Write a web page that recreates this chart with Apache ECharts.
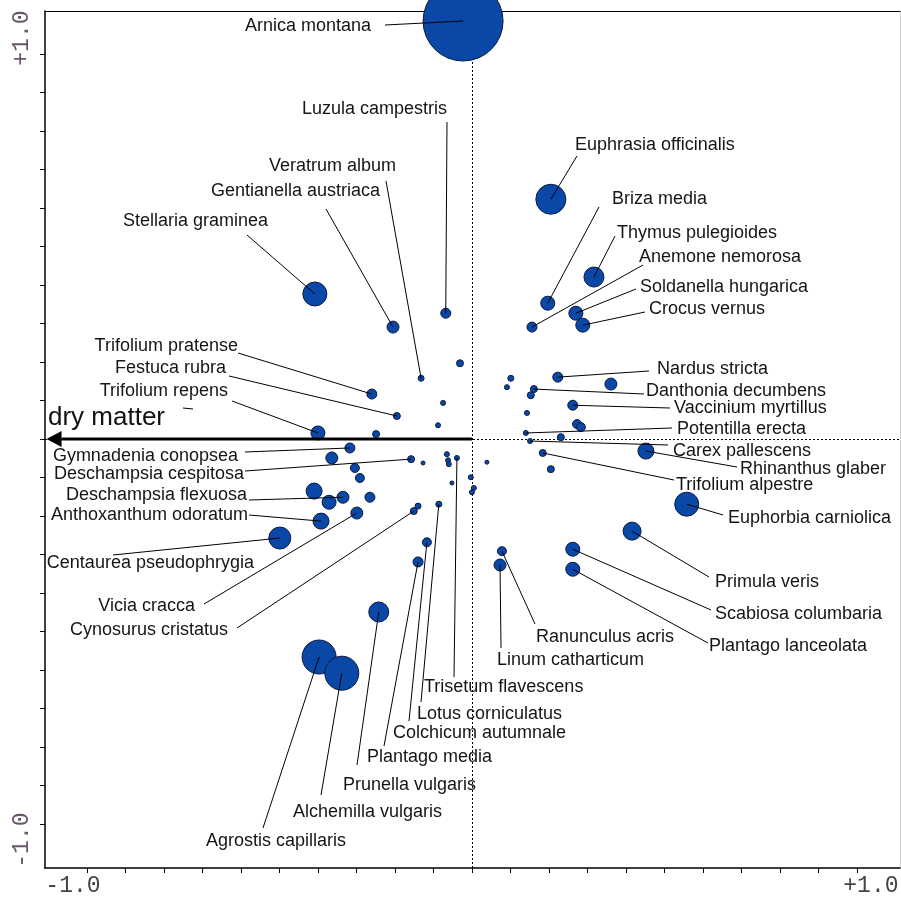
<!DOCTYPE html>
<html><head><meta charset="utf-8">
<script src="https://cdn.jsdelivr.net/npm/echarts@6.0.0/dist/echarts.min.js"></script>
<style>html,body{margin:0;padding:0;background:#fff}#c{width:901px;height:897px}</style>
</head><body><div id="c"></div>
<script>
// ---------- DATA (ordination scores) ----------
const species = [
 'Arnica montana','Euphrasia officinalis','Briza media','Thymus pulegioides','Anemone nemorosa',
 'Soldanella hungarica','Crocus vernus','Nardus stricta','Danthonia decumbens','Vaccinium myrtillus',
 'Potentilla erecta','Carex pallescens','Rhinanthus glaber','Trifolium alpestre','Euphorbia carniolica',
 'Primula veris','Scabiosa columbaria','Plantago lanceolata','Ranunculus acris','Linum catharticum',
 'Stellaria graminea','Gentianella austriaca','Veratrum album','Luzula campestris','Trifolium pratense',
 'Festuca rubra','Trifolium repens','Gymnadenia conopsea','Deschampsia cespitosa','Deschampsia flexuosa',
 'Anthoxanthum odoratum','Centaurea pseudophrygia','Vicia cracca','Cynosurus cristatus','Agrostis capillaris',
 'Alchemilla vulgaris','Prunella vulgaris','Plantago media','Colchicum autumnale','Lotus corniculatus',
 'Trisetum flavescens'
];
const speciesX = [
 -0.023, 0.205, 0.197, 0.317, 0.156,
  0.270, 0.288, 0.223, 0.161, 0.262,
  0.140, 0.151, 0.452, 0.184, 0.558,
  0.416, 0.262, 0.262, 0.078, 0.073,
 -0.408,-0.205,-0.132,-0.068,-0.260,
 -0.195,-0.400,-0.317,-0.158,-0.335,
 -0.392,-0.499,-0.299,-0.151,-0.397,
 -0.338,-0.242,-0.140,-0.117,-0.086,
 -0.039
];
const speciesY = [
  1.086, 0.623, 0.353, 0.421, 0.291,
  0.327, 0.296, 0.161, 0.130, 0.088,
  0.016,-0.005,-0.031,-0.036,-0.169,
 -0.239,-0.286,-0.338,-0.291,-0.327,
  0.377, 0.291, 0.158, 0.327, 0.117,
  0.060, 0.016,-0.023,-0.052,-0.151,
 -0.213,-0.257,-0.192,-0.187,-0.566,
 -0.608,-0.449,-0.319,-0.268,-0.169,
 -0.049
];
// symbol weight (abundance class)
const speciesWeight = [
 40,15,7,10,5,
 7,7,5,3.5,5,
 2.5,2.5,8,3.5,12,
 9,7,7,4.5,6,
 12,6,3,5,5,
 3.5,7,5,3.5,6,
 8,11,6,3.5,17,
 17,10,5,4.5,3,
 2.5
];
// species plotted without a label
const otherX = [-0.031,-0.075,-0.088,-0.249, 0.101, 0.091, 0.361, 0.153, 0.143, 0.273, 0.283, 0.231, 0.205, 0.039,
 -0.364,-0.304,-0.291,-0.410,-0.371,-0.265,-0.127,-0.065,-0.062,-0.060,-0.052,-0.003, 0.005, 0.000,-0.140];
const otherY = [ 0.197, 0.094, 0.036, 0.013, 0.158, 0.135, 0.143, 0.114, 0.068, 0.039, 0.031, 0.005,-0.078,-0.060,
 -0.049,-0.075,-0.101,-0.135,-0.164,-0.151,-0.062,-0.039,-0.055,-0.065,-0.114,-0.099,-0.127,-0.138,-0.174];
const otherWeight = [3.5,2.5,2.5,3.5,3,2.5,6,3.5,2.5,4.5,4.5,3.5,3.5,2,
 6,4.5,4.5,8,7,5,2,2.5,2.5,2.5,2,2.5,2.5,2.5,3];
// environmental variable
const envNames = ['dry matter'];
const envX = [-1.105];
const envY = [0];
// axis ticks & labels
const tickValues = [-1.0,-0.9,-0.8,-0.7,-0.6,-0.5,-0.4,-0.3,-0.2,-0.1,0,0.1,0.2,0.3,0.4,0.5,0.6,0.7,0.8,0.9,1.0];
const tickLabelValues = [-1.0, 1.0];
const tickLabelText = ['-1.0', '+1.0'];

// ---------- LAYOUT (label placement in the 901x897 frame) ----------
// [textX, textY, align, leaderEndX, leaderEndY]
const LABEL_LAYOUT = {
 'Arnica montana':[371,26,'right',385,25],
 'Euphrasia officinalis':[575,145,'left',577,156],
 'Briza media':[612,199,'left',599,207],
 'Thymus pulegioides':[617,233,'left',615,236],
 'Anemone nemorosa':[639,257,'left',643,265],
 'Soldanella hungarica':[640,287,'left',636,289],
 'Crocus vernus':[649,309,'left',645,312],
 'Nardus stricta':[657,369,'left',649,371],
 'Danthonia decumbens':[646,391,'left',644,394],
 'Vaccinium myrtillus':[674,408,'left',670,408],
 'Potentilla erecta':[677,429,'left',672,428],
 'Carex pallescens':[673,451,'left',668,445],
 'Rhinanthus glaber':[740,469,'left',737,467],
 'Trifolium alpestre':[676,485,'left',674,480],
 'Euphorbia carniolica':[728,518,'left',723,515],
 'Primula veris':[715,582,'left',709,577],
 'Scabiosa columbaria':[715,614,'left',711,610],
 'Plantago lanceolata':[709,646,'left',708,643],
 'Ranunculus acris':[536,637,'left',535,624],
 'Linum catharticum':[497,660,'left',501,648],
 'Stellaria graminea':[268,221,'right',247,235],
 'Gentianella austriaca':[380,191,'right',326,209],
 'Veratrum album':[396,166,'right',386,181],
 'Luzula campestris':[447,109,'right',447,122],
 'Trifolium pratense':[238,346,'right',238,353],
 'Festuca rubra':[226,368,'right',229,376],
 'Trifolium repens':[228,391,'right',232,401],
 'Gymnadenia conopsea':[238,456,'right',245,452],
 'Deschampsia cespitosa':[244,474,'right',245,471],
 'Deschampsia flexuosa':[247,495,'right',249,500],
 'Anthoxanthum odoratum':[248,515,'right',249,515],
 'Centaurea pseudophrygia':[254,563,'right',113,555],
 'Vicia cracca':[195,606,'right',204,604],
 'Cynosurus cristatus':[228,630,'right',237,628],
 'Agrostis capillaris':[206,841,'left',263,828],
 'Alchemilla vulgaris':[293,812,'left',321,795],
 'Prunella vulgaris':[343,785,'left',357,765],
 'Plantago media':[367,757,'left',384,746],
 'Colchicum autumnale':[393,733,'left',409,721],
 'Lotus corniculatus':[417,714,'left',421,702],
 'Trisetum flavescens':[424,687,'left',454,677]
};
const ENV_LABEL = {'dry matter':[48,418]};

const X_MIN = -1.109, X_MAX = 1.112, Y_MIN = -1.114, Y_MAX = 1.112;
const LABEL_FONT = '18px "Liberation Sans", Arial, sans-serif';
const POINT_FILL = '#0a48a8';

const chart = echarts.init(document.getElementById('c'), null, {renderer:'canvas'});

const pointData = [];
for (let i = 0; i < species.length; i++) pointData.push({name: species[i], value:[speciesX[i], speciesY[i], speciesWeight[i]]});
for (let i = 0; i < otherX.length; i++) pointData.push({name: '', value:[otherX[i], otherY[i], otherWeight[i]]});

const labelData = species.map((n, i) => ({name: n, value:[speciesX[i], speciesY[i]]}));

const baseAxis = {
  type:'value', splitLine:{show:false}
};

const option = {
  animation:false,
  backgroundColor:'#fff',
  grid:{left:45, right:1, top:11, bottom:29, containLabel:false},
  xAxis:[
    Object.assign({}, baseAxis, {min:X_MIN, max:X_MAX, position:'bottom',
      axisLine:{show:true, onZero:false, lineStyle:{color:'#000', width:1.5}},
      axisTick:{show:true, inside:false, length:5, lineStyle:{color:'#000', width:1}, customValues: tickValues},
      axisLabel:{show:false}}),
    Object.assign({}, baseAxis, {min:X_MIN, max:X_MAX, position:'top',
      axisLine:{show:true, onZero:false, lineStyle:{color:'#000', width:1}},
      axisTick:{show:false}, axisLabel:{show:false}})
  ],
  yAxis:[
    Object.assign({}, baseAxis, {min:Y_MIN, max:Y_MAX, position:'left',
      axisLine:{show:true, onZero:false, lineStyle:{color:'#000', width:1.5}},
      axisTick:{show:true, inside:false, length:5, lineStyle:{color:'#000', width:1}, customValues: tickValues},
      axisLabel:{show:false}}),
    Object.assign({}, baseAxis, {min:Y_MIN, max:Y_MAX, position:'right',
      axisLine:{show:true, onZero:false, lineStyle:{color:'#cfcfcf', width:1}},
      axisTick:{show:false}, axisLabel:{show:false}})
  ],
  series:[
    {
      type:'scatter', xAxisIndex:0, yAxisIndex:0, clip:false, z:3,
      data: pointData,
      symbol:'circle',
      symbolSize: v => v[2]*2,
      itemStyle:{color:POINT_FILL, borderColor:'#0b1a3e', borderWidth:1, opacity:1},
      emphasis:{disabled:true},
      markLine:{
        silent:true, symbol:'none', z:2,
        label:{show:false},
        lineStyle:{color:'#000', width:1, type:[2,2]},
        data:[{xAxis:0},{yAxis:0}]
      }
    },
    {
      type:'custom', xAxisIndex:0, yAxisIndex:0, clip:false, z:5,
      data: labelData,
      renderItem:(params, api) => {
        const name = species[params.dataIndex];
        const L = LABEL_LAYOUT[name];
        const p = api.coord([api.value(0), api.value(1)]);
        return {type:'group', children:[
          {type:'line', shape:{x1:p[0], y1:p[1], x2:L[3], y2:L[4]}, style:{stroke:'#000', lineWidth:1}},
          {type:'text', x:L[0], y:L[1], style:{text:name, x:0, y:0, font:LABEL_FONT, fill:'#151515',
            textAlign:L[2], textVerticalAlign:'middle', align:L[2], verticalAlign:'middle'}}
        ]};
      }
    },
    {
      type:'custom', xAxisIndex:0, yAxisIndex:0, clip:false, z:6,
      data: envNames.map((n,i)=>({name:n, value:[envX[i], envY[i]]})),
      renderItem:(params, api) => {
        const o = api.coord([0,0]);
        const t = api.coord([api.value(0), api.value(1)]);
        const ang = Math.atan2(t[1]-o[1], t[0]-o[0]);
        const hl = 15, hw = 8;
        const bx = t[0] - hl*Math.cos(ang), by = t[1] - hl*Math.sin(ang);
        const nx = -Math.sin(ang)*hw, ny = Math.cos(ang)*hw;
        const name = envNames[params.dataIndex];
        const L = ENV_LABEL[name];
        return {type:'group', children:[
          {type:'line', shape:{x1:o[0], y1:o[1], x2:bx, y2:by}, style:{stroke:'#000', lineWidth:3}},
          {type:'polygon', shape:{points:[[t[0],t[1]],[bx+nx,by+ny],[bx-nx,by-ny]]}, style:{fill:'#000'}},
          {type:'line', shape:{x1:183, y1:408, x2:193, y2:409}, style:{stroke:'#000', lineWidth:1}},
          {type:'text', x:L[0], y:L[1], style:{text:name, x:0, y:0, font:'26px "Liberation Sans", Arial, sans-serif',
            fill:'#111', textAlign:'left', textVerticalAlign:'middle', align:'left', verticalAlign:'middle'}}
        ]};
      }
    }
  ]
};
chart.setOption(option);

// tick labels at -1.0 / +1.0 placed from the axis scale
const gfx = [];
const tickFont = '23px "Liberation Mono", "Courier New", monospace';
tickLabelValues.forEach((v, i) => {
  const px = chart.convertToPixel({xAxisIndex:0}, v);
  const py = chart.convertToPixel({yAxisIndex:0}, v);
  const dir = v < 0 ? -1 : 1;
  gfx.push({type:'text', x: px + dir*14, y: 886, style:{text: tickLabelText[i], font: tickFont, fill:'#444',
    textAlign:'center', textVerticalAlign:'middle', align:'center', verticalAlign:'middle'}});
  gfx.push({type:'text', x: 22, y: py - dir*16, rotation: Math.PI/2, style:{text: tickLabelText[i], font: tickFont, fill:'#6a566a',
    textAlign:'center', textVerticalAlign:'middle', align:'center', verticalAlign:'middle'}});
});
chart.setOption({graphic: gfx});
</script>
</body></html>
